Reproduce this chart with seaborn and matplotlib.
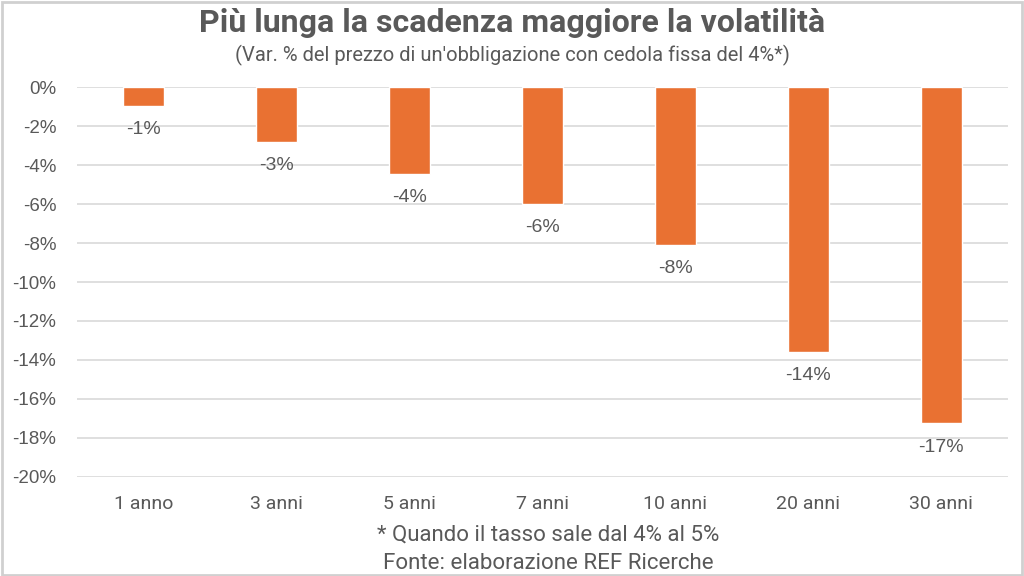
import matplotlib
matplotlib.use("Agg")
import matplotlib.pyplot as plt
import seaborn as sns
import pandas as pd
from matplotlib import font_manager

categories = ["1 anno", "3 anni", "5 anni", "7 anni", "10 anni", "20 anni", "30 anni"]
values = [-0.96, -2.79, -4.45, -6.0, -8.1, -13.6, -17.26]
labels = ["-1%", "-3%", "-4%", "-6%", "-8%", "-14%", "-17%"]
yticks = [0, -2, -4, -6, -8, -10, -12, -14, -16, -18, -20]

sns.set_theme(style="white")
names = {f.name for f in font_manager.fontManager.ttflist}
narrow = "Liberation Sans Narrow" if "Liberation Sans Narrow" in names else "Roboto"
plt.rcParams['font.family'] = ['Liberation Sans', 'DejaVu Sans']

df = pd.DataFrame({"cat": categories, "val": values})

fig = plt.figure(figsize=(10.24, 5.76), dpi=100)
fig.patch.set_facecolor("white")
ax = fig.add_axes([0.0752, 0.1724, 0.9088, 0.676])
sns.barplot(data=df, x="cat", y="val", color="#E97132", saturation=1, width=0.31, ax=ax)

ax.set_ylim(-20, 0)
ax.set_yticks(yticks)
ax.set_yticklabels([f"{t}%" for t in yticks], fontsize=13.5, color="#595959")
ax.yaxis.grid(True, color="#D9D9D9", linewidth=1.2)
ax.set_axisbelow(True)
for s in ax.spines.values():
    s.set_visible(False)
ax.tick_params(axis="both", length=0)
ax.tick_params(axis="y", pad=15)
ax.tick_params(axis="x", pad=13)
ax.set_xlabel("")
ax.set_ylabel("")
ax.set_xticklabels(categories, fontsize=14, color="#595959", family=[narrow, 'DejaVu Sans'])
ax.set_xlim(-0.5, len(categories) - 0.5)

for i, (v, l) in enumerate(zip(values, labels)):
    ax.annotate(l, (i, v), xytext=(0, -11), textcoords="offset points",
                ha="center", va="top", fontsize=14, color="#595959")

fig.text(0.5, 0.96, "Più lunga la scadenza maggiore la volatilità", ha="center", va="center",
         fontsize=23, fontweight="bold", color="#595959", family=[narrow, 'DejaVu Sans'])
fig.text(0.5, 0.903, "(Var. % del prezzo di un'obbligazione con cedola fissa del 4%*)", ha="center",
         va="center", fontsize=14.5, color="#595959", family=[narrow, 'DejaVu Sans'])
fig.text(0.535, 0.071, "* Quando il tasso sale dal 4% al 5%", ha="center", va="center",
         fontsize=16, color="#595959", family=[narrow, 'DejaVu Sans'])
fig.text(0.535, 0.022, "Fonte: elaborazione REF Ricerche", ha="center", va="center",
         fontsize=16, color="#595959", family=[narrow, 'DejaVu Sans'])

border = plt.Rectangle((0.002, 0.002), 0.996, 0.994, transform=fig.transFigure,
                       fill=False, edgecolor="#D0D0D0", linewidth=2)
fig.patches.append(border)

fig.savefig("out.png", dpi=100, facecolor="white")
